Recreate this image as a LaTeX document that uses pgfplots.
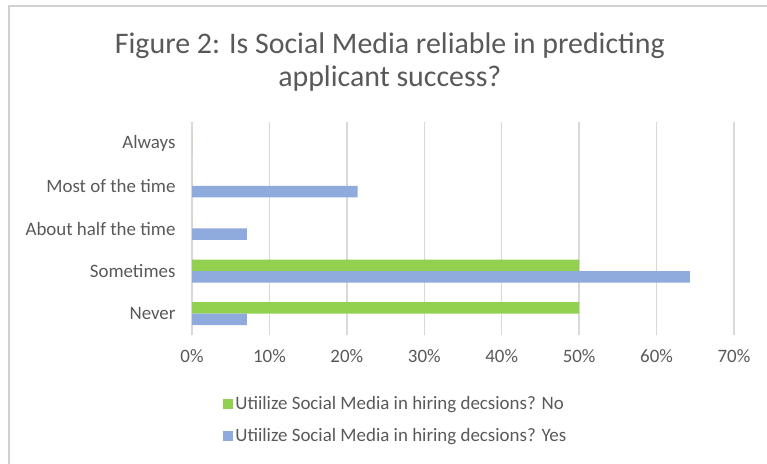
\documentclass[border=0pt]{standalone}
\usepackage{pgfplots}
\pgfplotsset{compat=1.18}
\usepackage{fontspec}
\setmainfont{Carlito}
\definecolor{nogreen}{HTML}{92D050}
\definecolor{yesblue}{HTML}{8FAADC}
\definecolor{gridgray}{HTML}{D9D9D9}
\definecolor{txtgray}{HTML}{595959}
\definecolor{framegray}{HTML}{D0D0D0}
\begin{document}
\begin{tikzpicture}[x=1bp,y=1bp]
\path[use as bounding box] (0bp,0bp) rectangle (767bp,464bp);
\draw[framegray,line width=2bp] (8.5bp,-2bp) -- (8.5bp,458bp) -- (770bp,458bp);
\begin{axis}[
  at={(192bp,129bp)}, anchor=south west,
  scale only axis, width=542bp, height=213bp,
  xbar, bar width=11.5bp,
  xmin=0, xmax=70, ymin=-0.5, ymax=4.5,
  xtick={0,10,...,70},
  xticklabel={\pgfmathprintnumber{\tick}\%},
  /pgf/number format/assume math mode=true,
  ytick={0,1,2,3,4},
  yticklabels={Never,Sometimes,About half the time,Most of the time,Always},
  major tick length=0pt,
  axis line style={draw=none},
  xmajorgrids, grid style={gridgray,line width=1.3bp},
  tick label style={text=txtgray,font=\fontsize{19}{21}\selectfont},
  xticklabel style={yshift=-11bp},
  yticklabel style={xshift=-13bp},
  title={Figure 2: Is Social Media reliable in predicting\\applicant success?},
  title style={align=center,text=txtgray,font=\fontsize{30}{33}\selectfont,at={(0.365,1)},anchor=south,yshift=21bp},
  legend style={draw=none,fill=none,at={(0.052,-0.27)},anchor=north west,
    font=\fontsize{19}{21}\selectfont,text=txtgray,row sep=13bp,
    cells={anchor=west}},
  legend image code/.code={\fill[#1] (0bp,-5bp) rectangle (10bp,5bp);},
  clip=false,
]
\addplot[fill=nogreen,draw=none,bar shift=5.75bp] coordinates {(50,0) (50,1) (0,2) (0,3) (0,4)};
\addlegendentry{Utiilize Social Media in hiring decsions? No}
\addplot[fill=yesblue,draw=none,bar shift=-5.75bp] coordinates {(7.1,0) (64.3,1) (7.1,2) (21.4,3) (0,4)};
\addlegendentry{Utiilize Social Media in hiring decsions? Yes}
\end{axis}
\end{tikzpicture}
\end{document}
